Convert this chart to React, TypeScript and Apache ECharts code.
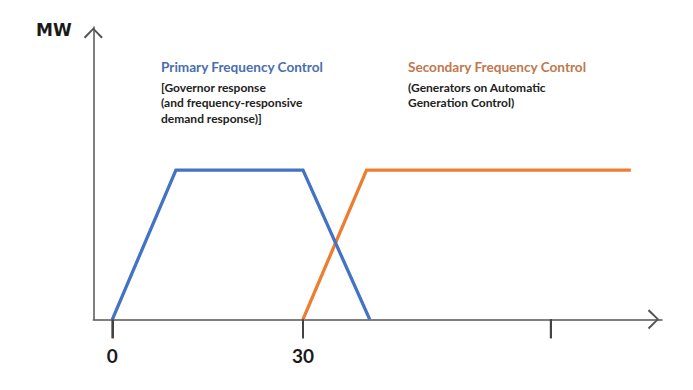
import React, { useEffect, useRef } from "react";
import * as echarts from "echarts";

// Data
const primaryResponse: [number, number][] = [
  [0, 0],
  [10, 100],
  [30, 100],
  [40.5, 0],
];
const secondaryResponse: [number, number][] = [
  [30, 0],
  [40, 100],
  [81.6, 100],
];
const tickValues = [0, 30, 69];
const labelValues = [0, 30];
const yAxisName = "MW";
const primaryTitle = "Primary Frequency Control";
const primaryNote = ["[Governor response", "(and frequency-responsive", "demand response)]"];
const secondaryTitle = "Secondary Frequency Control";
const secondaryNote = ["(Generators on Automatic", "Generation Control)"];

const AXIS_COLOR = "#555555";
const TICK_COLOR = "#444444";
const BLUE = "#4472C4";
const ORANGE = "#ED7D31";
const TICK_LENGTH = 19;
// Open chevron pointing up (rotated by ECharts to follow the axis)
const CHEVRON = "path://M0,10 L10,0 L20,10 L18.4,11.4 L10,2.6 L1.6,11.4 Z";

export default function App() {
  const ref = useRef<HTMLDivElement>(null);
  useEffect(() => {
    document.body.style.margin = "0";
    if (!ref.current) return;
    const chart = echarts.init(ref.current, undefined, { renderer: "svg" });
    chart.setOption({
      animation: false,
      backgroundColor: "#ffffff",
      grid: { left: 93.3, right: 31, top: 27, bottom: 70.7, containLabel: false },
      xAxis: {
        type: "value",
        min: -3,
        max: 86.5,
        splitLine: { show: false },
        axisLine: {
          onZero: false,
          lineStyle: { color: AXIS_COLOR, width: 1.5 },
          symbol: ["none", CHEVRON],
          symbolSize: [20, 17],
          symbolOffset: [0, -8.5],
        },
        axisTick: {
          show: true,
          customValues: tickValues,
          length: TICK_LENGTH,
          lineStyle: { color: TICK_COLOR, width: 2 },
        },
        axisLabel: {
          show: true,
          customValues: labelValues,
          margin: 27,
          color: "#1a1a1a",
          fontFamily: "Lato",
          fontWeight: "bold",
          fontSize: 19,
        },
      },
      yAxis: {
        type: "value",
        min: 0,
        max: 196,
        splitLine: { show: false },
        axisTick: { show: false },
        axisLabel: { show: false },
        axisLine: {
          show: true,
          onZero: false,
          lineStyle: { color: AXIS_COLOR, width: 1.5 },
          symbol: ["none", CHEVRON],
          symbolSize: [19, 12],
          symbolOffset: [0, -6],
        },
      },
      graphic: [
        {
          type: "text",
          x: 36,
          y: 30,
          style: {
            text: yAxisName,
            fill: "#1a1a1a",
            fontFamily: "DejaVu Sans",
            fontWeight: "bold",
            fontSize: 17,
            verticalAlign: "middle",
          },
        },
        {
          type: "text",
          x: 161,
          y: 66.5,
          style: {
            text: primaryTitle,
            fill: "#4A6EB0",
            fontFamily: "Lato",
            fontWeight: "bold",
            fontSize: 13.6,
            verticalAlign: "middle",
          },
        },
        {
          type: "text",
          x: 161,
          y: 79.5,
          style: {
            text: primaryNote.join("\n"),
            fill: "#222222",
            fontFamily: "Lato",
            fontWeight: "bold",
            fontSize: 12,
            lineHeight: 15.5,
            verticalAlign: "top",
          },
        },
        {
          type: "text",
          x: 408,
          y: 66.5,
          style: {
            text: secondaryTitle,
            fill: "#C0784C",
            fontFamily: "Lato",
            fontWeight: "bold",
            fontSize: 13.6,
            verticalAlign: "middle",
          },
        },
        {
          type: "text",
          x: 408,
          y: 79.5,
          style: {
            text: secondaryNote.join("\n"),
            fill: "#222222",
            fontFamily: "Lato",
            fontWeight: "bold",
            fontSize: 12,
            lineHeight: 15.5,
            verticalAlign: "top",
          },
        },
      ],
      series: [
        {
          name: "ticks",
          type: "custom",
          clip: false,
          silent: true,
          data: tickValues.map((v) => [v, 0]),
          encode: { x: 0, y: 1 },
          renderItem: (params: any, api: any) => {
            const p = api.coord([api.value(0), 0]);
            return {
              type: "line",
              shape: { x1: p[0], y1: p[1], x2: p[0], y2: p[1] + TICK_LENGTH },
              style: { stroke: TICK_COLOR, lineWidth: 2 },
            };
          },
          z: 100,
        },
        {
          name: primaryTitle,
          type: "line",
          data: primaryResponse,
          showSymbol: false,
          symbol: "none",
          lineStyle: { color: BLUE, width: 3.3, cap: "butt", join: "miter" },
          z: 3,
        },
        {
          name: secondaryTitle,
          type: "line",
          data: secondaryResponse,
          showSymbol: false,
          symbol: "none",
          lineStyle: { color: ORANGE, width: 3.3, cap: "butt", join: "miter" },
          z: 2,
        },
      ],
    });
    return () => chart.dispose();
  }, []);
  return <div ref={ref} style={{ width: 693, height: 390 }} />;
}
